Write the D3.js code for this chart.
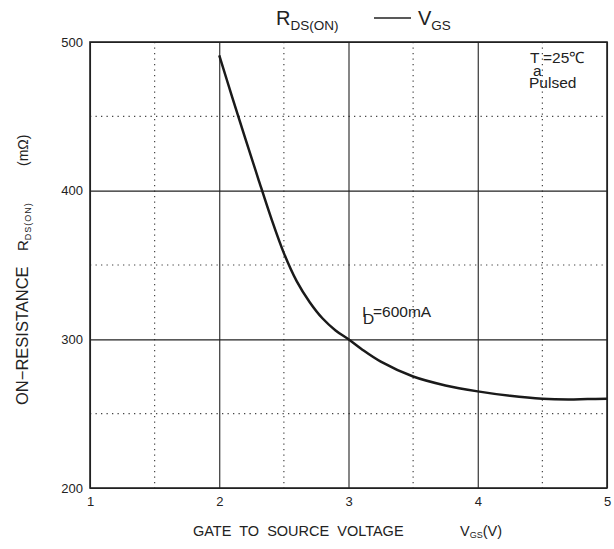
<!DOCTYPE html>
<html>
<head>
<meta charset="utf-8">
<script src="https://cdn.jsdelivr.net/npm/d3@7"></script>
<style>
  body { margin: 0; background: #fff; }
  text { font-family: "Liberation Sans", Arial, sans-serif; fill: #222; white-space: pre; }
</style>
</head>
<body>
<div id="chart"></div>
<script>
var vgs = [2.0, 2.1, 2.2, 2.3, 2.4, 2.5, 2.6, 2.7, 2.8, 2.9, 3.0, 3.1, 3.25, 3.5, 3.75, 4.0, 4.25, 4.5, 4.7, 4.85, 5.0];
var rds = [491, 463, 435.5, 408.5, 382, 358, 339, 325, 314, 306, 300, 293.5, 285, 275, 269, 265, 262, 260, 259.5, 259.8, 260];
var xTicks = [1, 2, 3, 4, 5];
var yTicks = [200, 300, 400, 500];
var xMinor = [1.5, 2.5, 3.5, 4.5];
var yMinor = [250, 350, 450];

var margin = {top: 42, right: 7, bottom: 61, left: 90};
var W = 614, H = 549;
var width = W - margin.left - margin.right;
var height = H - margin.top - margin.bottom;

var svg = d3.select("#chart").append("svg")
  .attr("width", W)
  .attr("height", H);

var g = svg.append("g")
  .attr("transform", "translate(" + margin.left + "," + margin.top + ")");

var xScale = d3.scaleLinear().domain([1, 5]).range([0, width]);
var yScale = d3.scaleLinear().domain([200, 500]).range([height, 0]);

// dotted grid
g.selectAll(".minor-x").data(xMinor).enter().append("line")
  .attr("x1", (d) => xScale(d)).attr("x2", (d) => xScale(d))
  .attr("y1", 0).attr("y2", height)
  .attr("stroke", "#444").attr("stroke-width", 1.2)
  .attr("stroke-dasharray", "1.3,4.2");

g.selectAll(".minor-y").data(yMinor).enter().append("line")
  .attr("x1", 0).attr("x2", width)
  .attr("y1", (d) => yScale(d)).attr("y2", (d) => yScale(d))
  .attr("stroke", "#444").attr("stroke-width", 1.2)
  .attr("stroke-dasharray", "1.3,4.2");

// solid grid
g.append("g")
  .attr("class", "grid grid-x")
  .call(d3.axisBottom(xScale).tickValues(xTicks).tickSize(height).tickFormat(""));

g.append("g")
  .attr("class", "grid grid-y")
  .call(d3.axisLeft(yScale).tickValues(yTicks).tickSize(-width).tickFormat(""));

svg.selectAll(".grid .tick line").attr("stroke", "#222").attr("stroke-width", 1.1);
svg.selectAll(".grid .domain").remove();

// frame
g.append("rect")
  .attr("x", 0).attr("y", 0)
  .attr("width", width).attr("height", height)
  .attr("fill", "none").attr("stroke", "#222").attr("stroke-width", 1.6);

// tick labels via axes
var xAxis = g.append("g")
  .attr("transform", "translate(0," + height + ")")
  .call(d3.axisBottom(xScale).tickValues(xTicks).tickSize(0).tickPadding(9).tickFormat(d3.format("d")));
var yAxis = g.append("g")
  .call(d3.axisLeft(yScale).tickValues(yTicks).tickSize(0).tickPadding(7).tickFormat(d3.format("d")));
[xAxis, yAxis].forEach(function(a) {
  a.select(".domain").remove();
  a.selectAll("text").style("font-family", "Liberation Sans, Arial, sans-serif")
    .style("font-size", "13px").attr("fill", "#333");
});

// curve
var line = d3.line()
  .x((d, i) => xScale(vgs[i]))
  .y((d) => yScale(d))
  .curve(d3.curveCatmullRom.alpha(0.5));

g.append("path")
  .datum(rds)
  .attr("d", line)
  .attr("fill", "none")
  .attr("stroke", "#1a1a1a")
  .attr("stroke-width", 2.5);

// title
var title = svg.append("text").attr("y", 25).style("font-size", "20px");
title.append("tspan").attr("x", 276).text("R");
title.append("tspan").attr("dy", 5).style("font-size", "13.5px").text("DS(ON)");
svg.append("line").attr("x1", 374).attr("x2", 411).attr("y1", 18).attr("y2", 18)
  .attr("stroke", "#222").attr("stroke-width", 1.3);
var title2 = svg.append("text").attr("y", 25).style("font-size", "20px");
title2.append("tspan").attr("x", 418).text("V");
title2.append("tspan").attr("dy", 5).style("font-size", "13.5px").text("GS");

// annotations
var ta = svg.append("text").attr("y", 63).style("font-size", "15.5px");
ta.append("tspan").attr("x", 530).text("T");
ta.append("tspan").attr("x", 543).text("=25\u2103");
svg.append("text").attr("x", 533).attr("y", 76).style("font-size", "15.5px").text("a");
svg.append("text").attr("x", 529).attr("y", 88).style("font-size", "15.5px").text("Pulsed");

var id = svg.append("text").attr("y", 317).style("font-size", "15.5px");
id.append("tspan").attr("x", 362).text("I");
id.append("tspan").attr("x", 363).attr("dy", 7).text("D");
id.append("tspan").attr("dy", -7).attr("x", 373).text("=600mA");

// axis titles
var xl = svg.append("text").attr("y", 536).style("font-size", "14.5px");
xl.append("tspan").attr("x", 193).text("GATE  TO  SOURCE  VOLTAGE");
xl.append("tspan").attr("x", 460).text("V");
xl.append("tspan").attr("dy", 2).style("font-size", "9px").text("GS");
xl.append("tspan").attr("dy", -2).text("(V)");

var yl = svg.append("g").attr("transform", "translate(28,0) rotate(-90)");
yl.append("text").attr("x", -405).attr("y", 0).style("font-size", "16.5px").text("ON\u2212RESISTANCE");
var yr = yl.append("text").attr("x", -251).attr("y", 0).style("font-size", "15px");
yr.append("tspan").text("R");
yr.append("tspan").attr("dy", 3).style("font-size", "9px").style("letter-spacing", "1px").text("DS(ON)");
yl.append("text").attr("x", -166).attr("y", 0).style("font-size", "14px").text("(m\u03a9)");
</script>
</body>
</html>
